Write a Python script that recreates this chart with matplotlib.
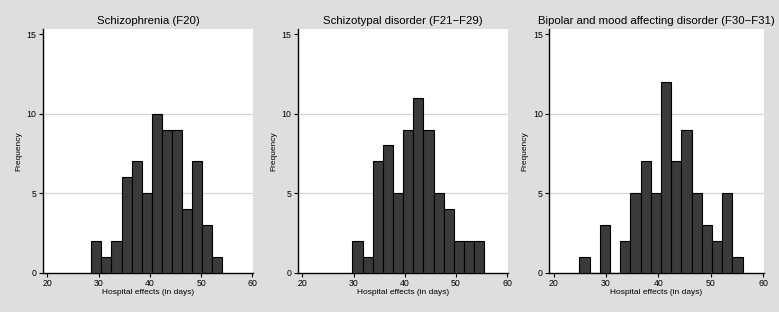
import numpy as np
import matplotlib
matplotlib.use("Agg")
import matplotlib.pyplot as plt

plt.rcParams["font.family"] = ["Liberation Sans", "DejaVu Sans"]

# Panel titles
titles = [
    "Schizophrenia (F20)",
    "Schizotypal disorder (F21\u2212F29)",
    "Bipolar and mood affecting disorder (F30\u2212F31)",
]

# Histogram counts per bin
counts_f20 = [2, 1, 2, 6, 7, 5, 10, 9, 9, 4, 7, 3, 1]
counts_f21 = [2, 1, 7, 8, 5, 9, 11, 9, 5, 4, 2, 2, 2]
counts_f30 = [1, 0, 3, 0, 2, 5, 7, 5, 12, 7, 9, 5, 3, 2, 5, 1]

# First bin edge and bin width (days)
bin_start = [28.6, 29.8, 24.9]
bin_width = [1.96, 1.98, 1.95]

x_ticks = [20, 30, 40, 50, 60]
y_ticks = [0, 5, 10, 15]

BG = "#dedede"
BAR = "#3a3a3a"

fig = plt.figure(figsize=(7.79, 3.12), dpi=100, facecolor=BG)

# axes boxes in figure fractions
boxes = [
    (0.0548, 0.126, 0.2704, 0.780),
    (0.3822, 0.126, 0.2700, 0.780),
    (0.7048, 0.126, 0.2760, 0.780),
]

all_counts = [counts_f20, counts_f21, counts_f30]

for box, title, counts, start, width in zip(boxes, titles, all_counts, bin_start, bin_width):
    ax = fig.add_axes(box)
    ax.set_facecolor("white")
    counts = np.array(counts)
    lefts = start + width * np.arange(len(counts))
    ax.bar(lefts, counts, width=width, align="edge", color=BAR,
           edgecolor="black", linewidth=0.8, zorder=3)

    ax.set_xlim(19.1, 60.2)
    ax.set_ylim(0, 15.3)
    ax.set_xticks(x_ticks)
    ax.set_yticks(y_ticks)
    for y in [5, 10]:
        ax.axhline(y, color="#d4d4d4", linewidth=0.9, zorder=1)

    for side in ["top", "right"]:
        ax.spines[side].set_visible(False)
    for side in ["left", "bottom"]:
        ax.spines[side].set_linewidth(1.0)
        ax.spines[side].set_color("black")

    ax.tick_params(axis="both", direction="out", length=3, width=0.8,
                   labelsize=6.3, pad=1.5, colors="black")
    ax.set_xlabel("Hospital effects (in days)", fontsize=6, labelpad=1)
    ax.set_ylabel("Frequency", fontsize=6, labelpad=3)
    ax.set_title(title, fontsize=8.2, pad=4)

fig.savefig("out.png", dpi=100, facecolor=BG)
